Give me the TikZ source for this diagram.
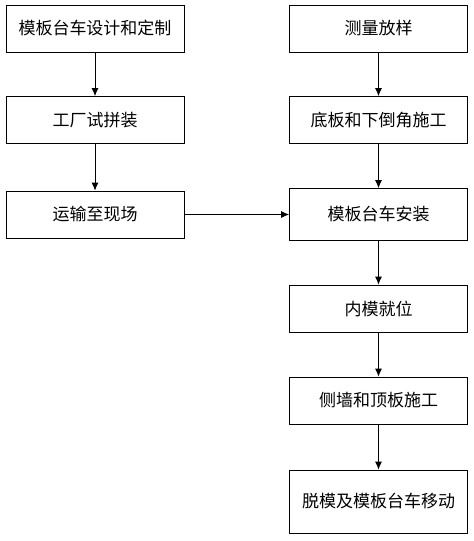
\documentclass[tikz,border=0pt]{standalone}
\usepackage{fontspec}
\setmainfont{Noto Sans CJK SC}
\usetikzlibrary{arrows.meta}
\begin{document}
\begin{tikzpicture}[x=1pt,y=-1pt,
    box/.style={draw,line width=0.8pt,minimum width=178pt,minimum height=47pt,inner sep=0pt,font=\fontsize{17}{19}\selectfont},
    flow/.style={line width=0.8pt,-{Latex[length=8pt,width=7pt]}}]
    \useasboundingbox (0,0) rectangle (474,541);
    \node[box] (design) at (95,28.5) {模板台车设计和定制};
    \node[box] (trial) at (95,120) {工厂试拼装};
    \node[box] (ship) at (95,214.5) {运输至现场};
    \node[box] (survey) at (378.5,28.5) {测量放样};
    \node[box] (floor) at (378.5,120) {底板和下倒角施工};
    \node[box,minimum height=52pt] (install) at (378.5,214.5) {模板台车安装};
    \node[box] (inner) at (378.5,308.5) {内模就位};
    \node[box] (wall) at (378.5,400.5) {侧墙和顶板施工};
    \node[box,minimum height=63pt] (strip) at (378.5,501.5) {脱模及模板台车移动};
    \draw[flow] (design) -- (trial);
    \draw[flow] (trial) -- (ship);
    \draw[flow] (ship) -- (install);
    \draw[flow] (survey) -- (floor);
    \draw[flow] (floor) -- (install);
    \draw[flow] (install) -- (inner);
    \draw[flow] (inner) -- (wall);
    \draw[flow] (wall) -- (strip);
\end{tikzpicture}
\end{document}
